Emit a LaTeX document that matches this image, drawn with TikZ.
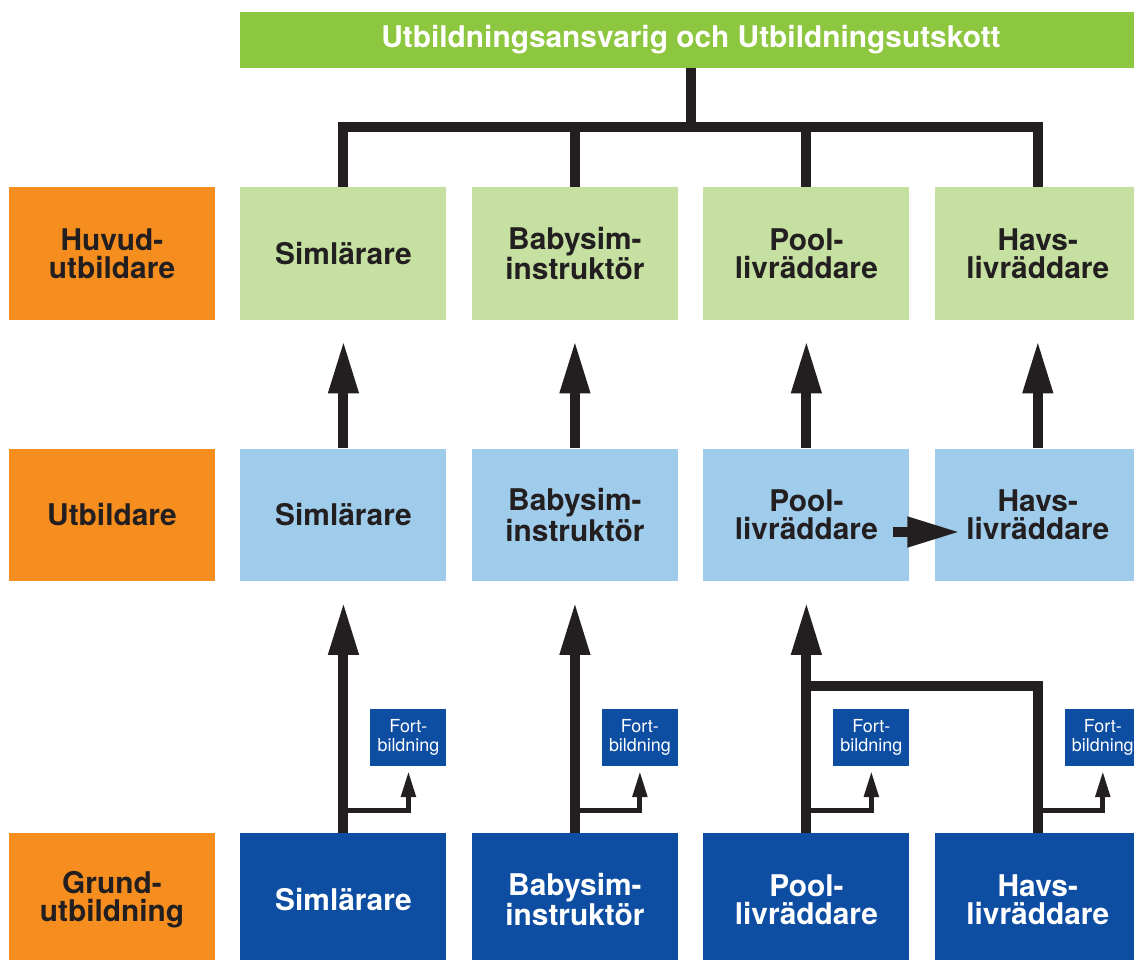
\documentclass[tikz,border=0pt]{standalone}
\usepackage{fontspec}
\setmainfont{TeX Gyre Heros}
\usepackage{xcolor}
\usepackage{tikz}
\usetikzlibrary{arrows.meta,positioning}

\definecolor{ink}{HTML}{231F20}
\definecolor{titlegreen}{RGB}{141,198,63}
\definecolor{lightgreen}{RGB}{197,224,160}
\definecolor{lightblue}{RGB}{160,204,236}
\definecolor{darkblue}{RGB}{14,78,162}
\definecolor{labelorange}{RGB}{245,142,30}

\begin{document}
\begin{tikzpicture}[x=0.02cm, y=-0.02cm, node distance=4.63cm,
    box/.style={rectangle, text width=4.12cm, text centered, minimum height=2.66cm, inner sep=0pt, font=\bfseries\fontsize{17}{16}\selectfont},
    level/.style={box, fill=labelorange, text=ink},
    head/.style={box, fill=lightgreen, text=ink},
    trainer/.style={box, fill=lightblue, text=ink},
    basic/.style={box, fill=darkblue, text=white},
    title/.style={rectangle, fill=titlegreen, text=white, minimum width=18.04cm, minimum height=1.12cm, inner sep=0pt, font=\bfseries\fontsize{17}{16}\selectfont},
    fort/.style={rectangle, fill=darkblue, text=white, text width=1.52cm, text centered, minimum height=1.14cm, inner sep=0pt, font=\fontsize{10.2}{10.8}\selectfont},
    trunk/.style={draw=ink, line width=0.2cm},
    arrow/.style={trunk, -{Triangle[length=1.06cm, width=0.56cm]}, shorten >=0.4cm},
    branch/.style={draw=ink, line width=0.1cm, -{Triangle[length=0.52cm, width=0.28cm]}, shorten >=0.1cm}]

    \path [use as bounding box, clip] (0,0) rectangle (1134,960);

    \node [title] (top) at (691,40) {Utbildningsansvarig och Utbildningsutskott};

    \node [level] (lhead) at (112,253.5) {Huvud-\\utbildare};
    \node [level] (ltrain) at (112,515) {Utbildare};
    \node [level] (lbasic) at (112,899.5) {Grund-\\utbildning};

    \node [head, right of=lhead] (h1) {Simlärare};
    \node [head, right of=h1] (h2) {Babysim-\\instruktör};
    \node [head, right of=h2] (h3) {Pool-\\livräddare};
    \node [head, right of=h3] (h4) {Havs-\\livräddare};

    \node [trainer, right of=ltrain] (u1) {Simlärare};
    \node [trainer, right of=u1] (u2) {Babysim-\\instruktör};
    \node [trainer, right of=u2] (u3) {Pool-\\livräddare};
    \node [trainer, right of=u3] (u4) {Havs-\\livräddare};

    \node [basic, right of=lbasic] (g1) {Simlärare};
    \node [basic, right of=g1] (g2) {Babysim-\\instruktör};
    \node [basic, right of=g2] (g3) {Pool-\\livräddare};
    \node [basic, right of=g3] (g4) {Havs-\\livräddare};

    \node [fort] (f1) at ([xshift=1.3cm, yshift=1.91cm]g1.north) {Fort-\\bildning};
    \node [fort] (f2) at ([xshift=1.3cm, yshift=1.91cm]g2.north) {Fort-\\bildning};
    \node [fort] (f3) at ([xshift=1.3cm, yshift=1.91cm]g3.north) {Fort-\\bildning};
    \node [fort] (f4) at ([xshift=1.3cm, yshift=1.91cm]g4.north) {Fort-\\bildning};

    % Tree from the top
    \coordinate (hub) at ([yshift=-1.18cm]top.south);
    \draw [trunk] (top.south) -- (hub);
    \draw [trunk] (hub) -| (h1.north);
    \draw [trunk] (hub) -| (h2.north);
    \draw [trunk] (hub) -| (h3.north);
    \draw [trunk] (hub) -| (h4.north);

    % Arrows
    \draw [arrow] (u1) -- (h1);
    \draw [arrow] (u2) -- (h2);
    \draw [arrow] (u3) -- (h3);
    \draw [arrow] (u4) -- (h4);
    \draw [arrow] (g1) -- (u1);
    \draw [arrow] (g2) -- (u2);
    \draw [arrow] (g3) -- (u3);
    \draw [trunk] (g4.north) |- ([yshift=-2.08cm]u3.south);
    \draw [arrow, shorten >=0pt] ([xshift=-0.34cm, yshift=-0.34cm]u3.east) -- ([xshift=0.52cm, yshift=-0.34cm]u4.west);

    % Fortbildning
    \draw [branch] ([yshift=0.44cm]g1.north) -| (f1);
    \draw [branch] ([yshift=0.44cm]g2.north) -| (f2);
    \draw [branch] ([yshift=0.44cm]g3.north) -| (f3);
    \draw [branch] ([yshift=0.44cm]g4.north) -| (f4);
\end{tikzpicture}
\end{document}
